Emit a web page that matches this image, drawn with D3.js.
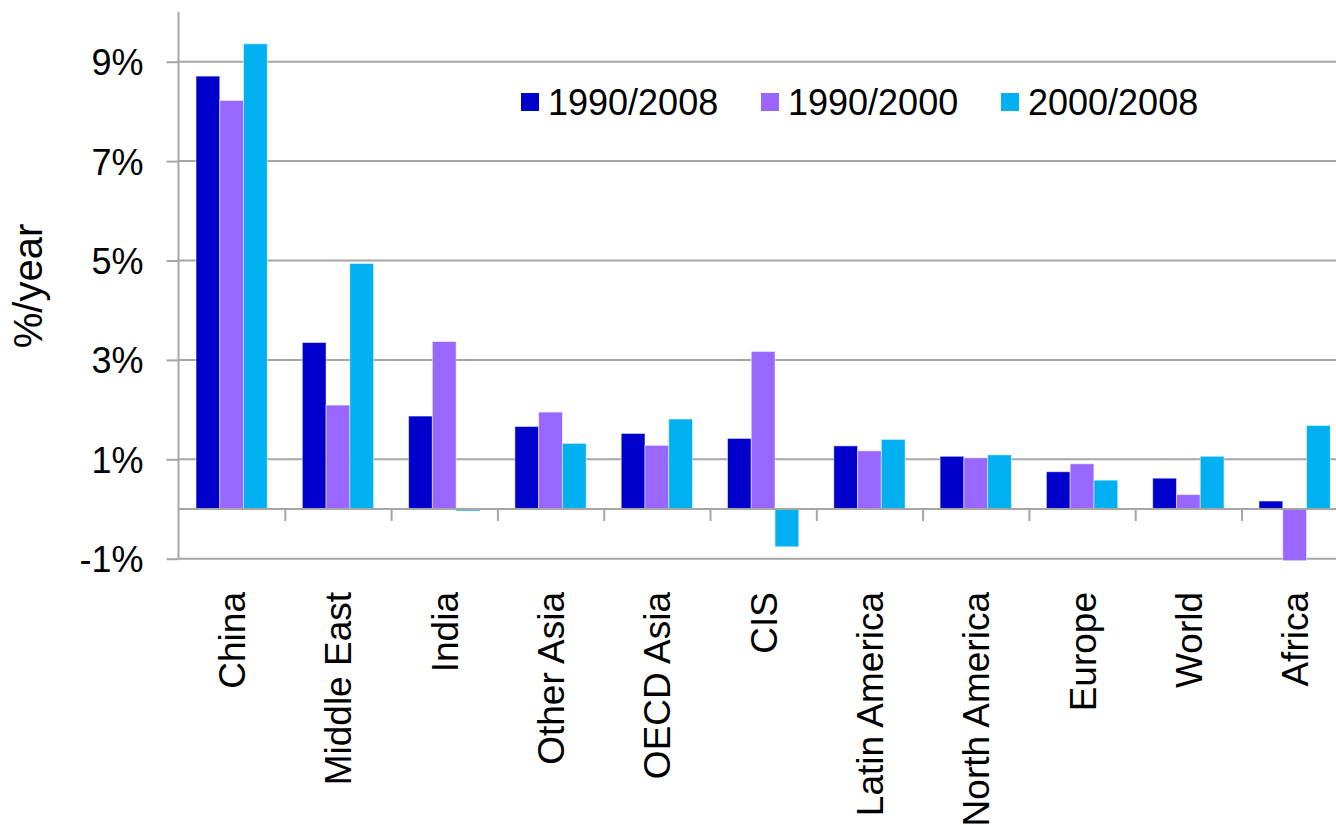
<!DOCTYPE html>
<html>
<head>
<meta charset="utf-8">
<script src="https://cdn.jsdelivr.net/npm/d3@7"></script>
<style>
  body { margin: 0; background: #fff; }
  text { font-family: "Liberation Sans", Arial, sans-serif; fill: #000; }
</style>
</head>
<body>
<div id="chart"></div>
<script>
// data
const categories = ["China", "Middle East", "India", "Other Asia", "OECD Asia", "CIS",
    "Latin America", "North America", "Europe", "World", "Africa"]
const seriesNames = ["1990/2008", "1990/2000", "2000/2008"]
const s1990_2008 = [8.71, 3.35, 1.87, 1.66, 1.52, 1.42, 1.27, 1.06, 0.75, 0.62, 0.16]
const s1990_2000 = [8.22, 2.09, 3.37, 1.95, 1.28, 3.17, 1.17, 1.03, 0.91, 0.29, -1.04]
const s2000_2008 = [9.36, 4.94, -0.04, 1.32, 1.81, -0.76, 1.40, 1.09, 0.58, 1.06, 1.68]
const yTicks = [-1, 1, 3, 5, 7, 9]
const colors = ["#0000cc", "#9966ff", "#00b0f0"]

const width = 1336
const height = 825
const margin = { top: 12, left: 178.5, bottom: 266.3 }
const bandW = 106.3

const svg = d3.select("div#chart").append("svg").attr("width", width).attr("height", height)

const x0 = d3.scaleBand().domain(categories).range([margin.left, margin.left + bandW * categories.length]).padding(0)
const x1 = d3.scaleBand().domain(seriesNames).range([17.5, bandW - 17.5]).padding(0)
const y = d3.scaleLinear().domain([-1, 10]).range([height - margin.bottom, margin.top])

// grid lines
svg.append("g").attr("class", "grid")
    .selectAll("line").data(yTicks).join("line")
    .attr("x1", margin.left).attr("x2", width)
    .attr("y1", d => y(d)).attr("y2", d => y(d))
    .attr("stroke", "#a6a6a6").attr("stroke-width", 2)

// y axis
const yAxisGroup = svg.append("g").attr("transform", `translate(${margin.left},0)`)
    .call(d3.axisLeft(y).tickValues(yTicks).tickSize(12).tickPadding(23).tickFormat(d => d + "%"))
yAxisGroup.select(".domain").attr("stroke", "#a6a6a6").attr("stroke-width", 2)
    .attr("d", `M0,${y(10)}V${y(-1)}`)
yAxisGroup.selectAll(".tick line").attr("stroke", "#a6a6a6").attr("stroke-width", 2)
yAxisGroup.selectAll(".tick text").style("font-size", "36px").attr("dy", "0.36em")

// bars
const data = categories.map((c, i) => ({ cat: c, vals: [s1990_2008[i], s1990_2000[i], s2000_2008[i]] }))
svg.append("g").selectAll("g").data(data).join("g")
    .attr("transform", d => `translate(${x0(d.cat)},0)`)
    .selectAll("rect").data(d => d.vals.map((v, j) => ({ key: seriesNames[j], v: v, j: j }))).join("rect")
    .attr("x", d => x1(d.key))
    .attr("width", x1.bandwidth())
    .attr("y", d => y(Math.max(0, d.v)))
    .attr("height", d => Math.abs(y(d.v) - y(0)))
    .attr("fill", d => colors[d.j])
    .attr("stroke", "#ffffff").attr("stroke-opacity", 0.5).attr("stroke-width", 1)

// zero line + category boundary ticks
const xIdx = d3.scaleLinear().domain([0, categories.length]).range(x0.range())
const xAxisGroup = svg.append("g").attr("transform", `translate(0,${y(0)})`)
    .call(d3.axisBottom(xIdx).tickValues(d3.range(1, categories.length)).tickSize(12).tickFormat(""))
xAxisGroup.select(".domain").attr("stroke", "#a6a6a6").attr("stroke-width", 2)
    .attr("d", `M${margin.left},0H${width}`)
xAxisGroup.selectAll(".tick line").attr("stroke", "#a6a6a6").attr("stroke-width", 2)

// category labels
svg.append("g").selectAll("text").data(categories).join("text")
    .attr("transform", d => `translate(${x0(d) + bandW / 2 + 13.5},592) rotate(-90)`)
    .attr("text-anchor", "end")
    .style("font-size", "37px")
    .text(d => d)

// y title
svg.append("text")
    .attr("transform", "translate(42,286) rotate(-90)")
    .attr("text-anchor", "middle")
    .style("font-size", "40px")
    .text("%/year")

// legend
const legend = svg.append("g").selectAll("g").data(seriesNames).join("g")
    .attr("transform", (d, i) => `translate(${521 + i * 240},93)`)
legend.append("rect").attr("width", 18).attr("height", 18).attr("fill", (d, i) => colors[i])
legend.append("text").attr("x", 27).attr("y", 22).style("font-size", "36px").text(d => d)
</script>
</body>
</html>
